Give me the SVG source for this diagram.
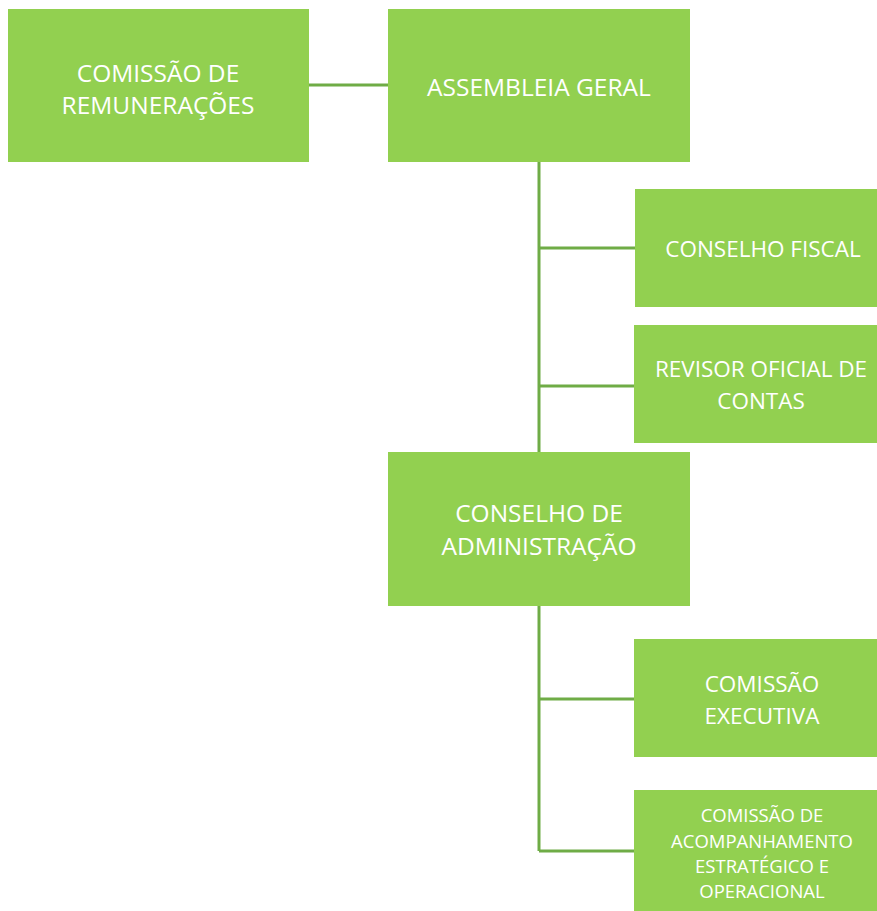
<svg xmlns="http://www.w3.org/2000/svg" width="877" height="911" viewBox="0 0 877 911">
<style>
.box{fill:#92D050;}
.t{font-family:"Open Sans","Liberation Sans",sans-serif;fill:#ffffff;font-size:24.5px;text-anchor:middle;}
.r{font-size:22.5px;}
.s{font-size:18.5px;}
.c{stroke:#6FAC46;stroke-width:3;fill:none;}
</style>
<rect width="877" height="911" fill="#ffffff"/>
<g id="connectors">
<line class="c" x1="309" y1="85" x2="389" y2="85"/>
<line class="c" x1="539" y1="162" x2="539" y2="453"/>
<line class="c" x1="539" y1="248" x2="636" y2="248"/>
<line class="c" x1="539" y1="386" x2="635" y2="386"/>
<line class="c" x1="539" y1="606" x2="539" y2="851"/>
<line class="c" x1="539" y1="699" x2="635" y2="699"/>
<line class="c" x1="539" y1="851" x2="635" y2="851"/>
</g>
<g id="n-remuneracoes">
<rect class="box" x="8" y="9" width="301" height="153"/>
<text class="t" x="158" y="82">COMISSÃO DE</text>
<text class="t" x="158" y="114">REMUNERAÇÕES</text>
</g>
<g id="n-assembleia">
<rect class="box" x="388" y="9" width="302" height="153"/>
<text class="t" x="539" y="96">ASSEMBLEIA GERAL</text>
</g>
<g id="n-fiscal">
<rect class="box" x="635" y="189" width="250" height="118"/>
<text class="t r" x="763" y="257">CONSELHO FISCAL</text>
</g>
<g id="n-revisor">
<rect class="box" x="634" y="325" width="251" height="118"/>
<text class="t r" x="761" y="377">REVISOR OFICIAL DE</text>
<text class="t r" x="761" y="409">CONTAS</text>
</g>
<g id="n-administracao">
<rect class="box" x="388" y="452" width="302" height="154"/>
<text class="t" x="539" y="522">CONSELHO DE</text>
<text class="t" x="539" y="555">ADMINISTRAÇÃO</text>
</g>
<g id="n-executiva">
<rect class="box" x="634" y="639" width="251" height="118"/>
<text class="t r" x="762" y="692">COMISSÃO</text>
<text class="t r" x="762" y="724">EXECUTIVA</text>
</g>
<g id="n-acompanhamento">
<rect class="box" x="634" y="790" width="251" height="130"/>
<text class="t s" x="762" y="822">COMISSÃO DE</text>
<text class="t s" x="762" y="848">ACOMPANHAMENTO</text>
<text class="t s" x="762" y="873">ESTRATÉGICO E</text>
<text class="t s" x="762" y="898">OPERACIONAL</text>
</g>
</svg>
